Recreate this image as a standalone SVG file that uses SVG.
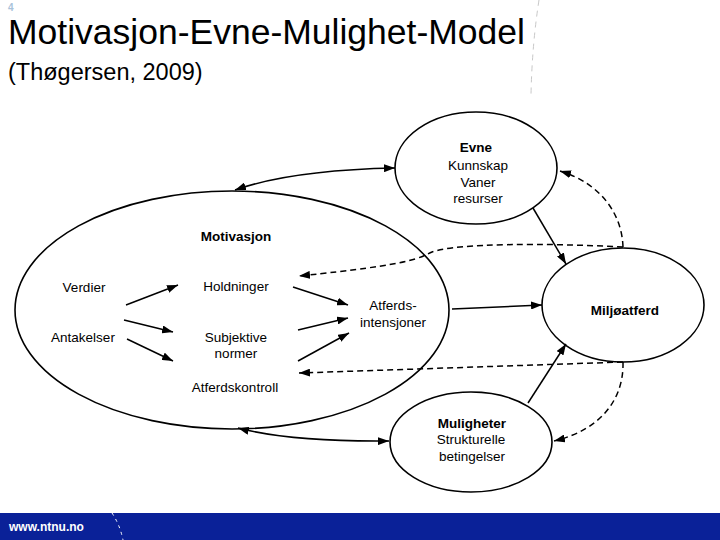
<svg xmlns="http://www.w3.org/2000/svg" width="720" height="540" viewBox="0 0 720 540">
<style>
.t{font-family:"Liberation Sans",Arial,sans-serif;font-size:13.5px;fill:#000;text-anchor:middle}
.b{font-weight:bold}
.n{fill:#fff;stroke:#000;stroke-width:1.6}
.s{fill:none;stroke:#000;stroke-width:1.5}
.d{fill:none;stroke:#000;stroke-width:1.5;stroke-dasharray:6 4}
</style>
<defs>
<marker id="ah" viewBox="0 0 11 8" refX="11" refY="4" markerWidth="11" markerHeight="8" markerUnits="userSpaceOnUse" orient="auto-start-reverse">
<path d="M0,0 L11,4 L0,8 z" fill="#000"/>
</marker>
</defs>
<rect width="720" height="540" fill="#fff"/>
<g id="header">
<text x="8" y="11" style="font-family:'Liberation Sans',Arial,sans-serif;font-size:10px;font-weight:bold;fill:#a9c2da">4</text>
<text x="8" y="44" style="font-family:'Liberation Sans',Arial,sans-serif;font-size:35.5px;fill:#000">Motivasjon-Evne-Mulighet-Model</text>
<text x="8" y="80" style="font-family:'Liberation Sans',Arial,sans-serif;font-size:23.5px;fill:#000">(Thøgersen, 2009)</text>
<path d="M539 0 Q532 45 531 95" fill="none" stroke="#c8c8c8" stroke-width="1" stroke-dasharray="6 5"/>
</g>
<g id="motivasjon">
<ellipse class="n" cx="232" cy="310" rx="217" ry="119"/>
<text class="t b" x="236" y="241">Motivasjon</text>
<text class="t" x="84" y="292">Verdier</text>
<text class="t" x="83" y="342">Antakelser</text>
<text class="t" x="236" y="291">Holdninger</text>
<text class="t" x="236" y="342">Subjektive</text>
<text class="t" x="236" y="358">normer</text>
<text class="t" x="235" y="392">Atferdskontroll</text>
<text class="t" x="393" y="310">Atferds-</text>
<text class="t" x="393" y="327">intensjoner</text>
</g>
<g id="evne">
<ellipse class="n" cx="476" cy="168" rx="81" ry="56"/>
<text class="t b" x="476" y="152">Evne</text>
<text class="t" x="478" y="170">Kunnskap</text>
<text class="t" x="478" y="187">Vaner</text>
<text class="t" x="478" y="203">resurser</text>
</g>
<g id="miljoatferd">
<ellipse class="n" cx="623" cy="305" rx="81" ry="57"/>
<text class="t b" x="625" y="315">Miljøatferd</text>
</g>
<g id="muligheter">
<ellipse class="n" cx="471" cy="442" rx="81" ry="50"/>
<text class="t b" x="472" y="428">Muligheter</text>
<text class="t" x="471" y="444">Strukturelle</text>
<text class="t" x="472" y="461">betingelser</text>
</g>
<g id="connectors">
<line class="s" x1="126" y1="305" x2="178" y2="285" marker-end="url(#ah)"/>
<line class="s" x1="124" y1="320" x2="173" y2="332" marker-end="url(#ah)"/>
<line class="s" x1="127" y1="339" x2="173" y2="361" marker-end="url(#ah)"/>
<line class="s" x1="293" y1="287" x2="348" y2="305" marker-end="url(#ah)"/>
<line class="s" x1="298" y1="330" x2="348" y2="318" marker-end="url(#ah)"/>
<line class="s" x1="298" y1="361" x2="349" y2="333" marker-end="url(#ah)"/>
<line class="s" x1="452" y1="309" x2="542" y2="305" marker-end="url(#ah)"/>
<line class="s" x1="533" y1="208" x2="566" y2="264" marker-end="url(#ah)"/>
<line class="s" x1="528" y1="403" x2="566" y2="344" marker-end="url(#ah)"/>
<path class="s" d="M235 190 Q292 170 395 168" marker-start="url(#ah)" marker-end="url(#ah)"/>
<path class="s" d="M238 428 Q292 442 389 441" marker-start="url(#ah)" marker-end="url(#ah)"/>
<path class="d" d="M623 247 C622 215 602 184 560 171" marker-end="url(#ah)"/>
<path class="d" d="M623 247 C545 243 458 243 432 252 C418 258 416 264 299 276" marker-end="url(#ah)"/>
<path class="d" d="M623 362 L299 373" marker-end="url(#ah)"/>
<path class="d" d="M623 362 C624 400 600 430 554 441" marker-end="url(#ah)"/>
</g>
<g id="footer">
<rect x="0" y="513" width="720" height="27" fill="#0a2198"/>
<text x="9" y="531" style="font-family:'Liberation Sans',Arial,sans-serif;font-size:12px;font-weight:bold;fill:#fff">www.ntnu.no</text>
<path d="M112 513 Q120 525 123 540" fill="none" stroke="#fff" stroke-width="1" stroke-dasharray="3 4"/>
</g>
</svg>
